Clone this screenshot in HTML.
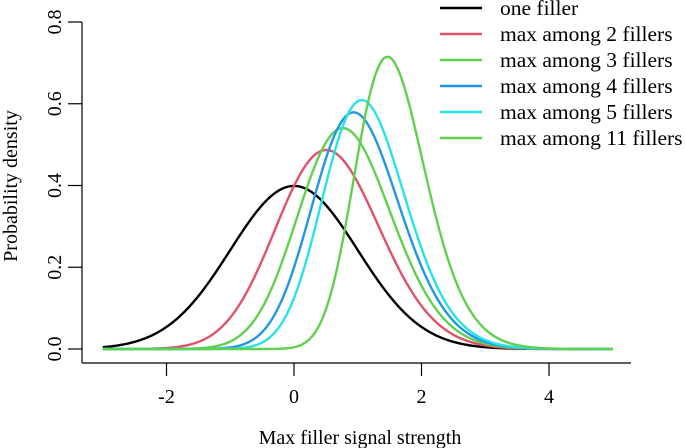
<!DOCTYPE html>
<html><head><meta charset="utf-8"><style>
body{margin:0;background:#fff}
svg{display:block;font-family:"Liberation Serif",serif}
</style></head><body>
<svg id="chart" width="685" height="448" viewBox="0 0 685 448">
<g id="axes"></g>
<g id="series"></g>
<g id="legend"></g>
<text x="360" y="444" font-size="20" text-anchor="middle">Max filler signal strength</text>
<text transform="translate(17,186) rotate(-90)" font-size="20" text-anchor="middle">Probability density</text>
</svg>
<script>
const fillerCounts=[1,2,3,4,5,11];
const seriesLabels=["one filler","max among 2 fillers","max among 3 fillers","max among 4 fillers","max among 5 fillers","max among 11 fillers"];
const seriesColors=["#000000","#DF536B","#61D04F","#2297E6","#28E2E5","#61D04F"];
const xTicks=[-2,0,2,4];
const xTickLabels=["-2","0","2","4"];
const yTicks=[0,0.2,0.4,0.6,0.8];
const yTickLabels=["0.0","0.2","0.4","0.6","0.8"];
const xDomain=[-3,5];

const NS="http://www.w3.org/2000/svg";
const sx=v=>294+v*63.75;
const sy=v=>349-v*408.75;
function mk(tag,attrs,parent){const e=document.createElementNS(NS,tag);for(const k in attrs)e.setAttribute(k,attrs[k]);parent.appendChild(e);return e;}
function phi(x){return Math.exp(-x*x/2)/Math.sqrt(2*Math.PI);}
function Phi(x){const t=1/(1+0.2316419*Math.abs(x));const d=phi(x);const p=d*t*(0.319381530+t*(-0.356563782+t*(1.781477937+t*(-1.821255978+t*1.330274429))));return x>=0?1-p:p;}
const axes=document.getElementById('axes');
let e=mk('line',{x1:82,x2:631,y1:363,y2:363,stroke:'#000','stroke-width':1.2},axes);

xTicks.forEach((t,i)=>{
 let l=mk('line',{x1:sx(t),x2:sx(t),y1:363,y2:376,stroke:'#000','stroke-width':1.2},axes);
 
 let tx=mk('text',{x:sx(t),y:403,'font-size':20,'text-anchor':'middle'},axes);tx.textContent=xTickLabels[i];
 
});
e=mk('line',{x1:82,x2:82,y1:363,y2:sy(yTicks[yTicks.length-1]),stroke:'#000','stroke-width':1.2},axes);

yTicks.forEach((t,i)=>{
 let l=mk('line',{x1:68,x2:82,y1:sy(t),y2:sy(t),stroke:'#000','stroke-width':1.2},axes);
 
 let tx=mk('text',{transform:`translate(61,${sy(t)}) rotate(-90)`,'font-size':20,'text-anchor':'middle'},axes);tx.textContent=yTickLabels[i];
 
});
const series=document.getElementById('series');
fillerCounts.forEach((n,i)=>{
 let d='';
 for(let k=0;k<=400;k++){const x=xDomain[0]+(xDomain[1]-xDomain[0])*k/400;const y=n*phi(x)*Math.pow(Phi(x),n-1);d+=(k?'L':'M')+sx(x).toFixed(2)+','+sy(y).toFixed(2);}
 let p=mk('path',{d:d,fill:'none',stroke:seriesColors[i],'stroke-width':2.4},series);
 
});
const legend=document.getElementById('legend');
seriesLabels.forEach((s,i)=>{
 const y=8+i*26;
 let l=mk('line',{x1:440,x2:482,y1:y,y2:y,stroke:seriesColors[i],'stroke-width':2.4},legend);
 
 let t=mk('text',{x:500,y:y+7,'font-size':21.5},legend);t.textContent=s;
 
});
</script>
</body></html>
